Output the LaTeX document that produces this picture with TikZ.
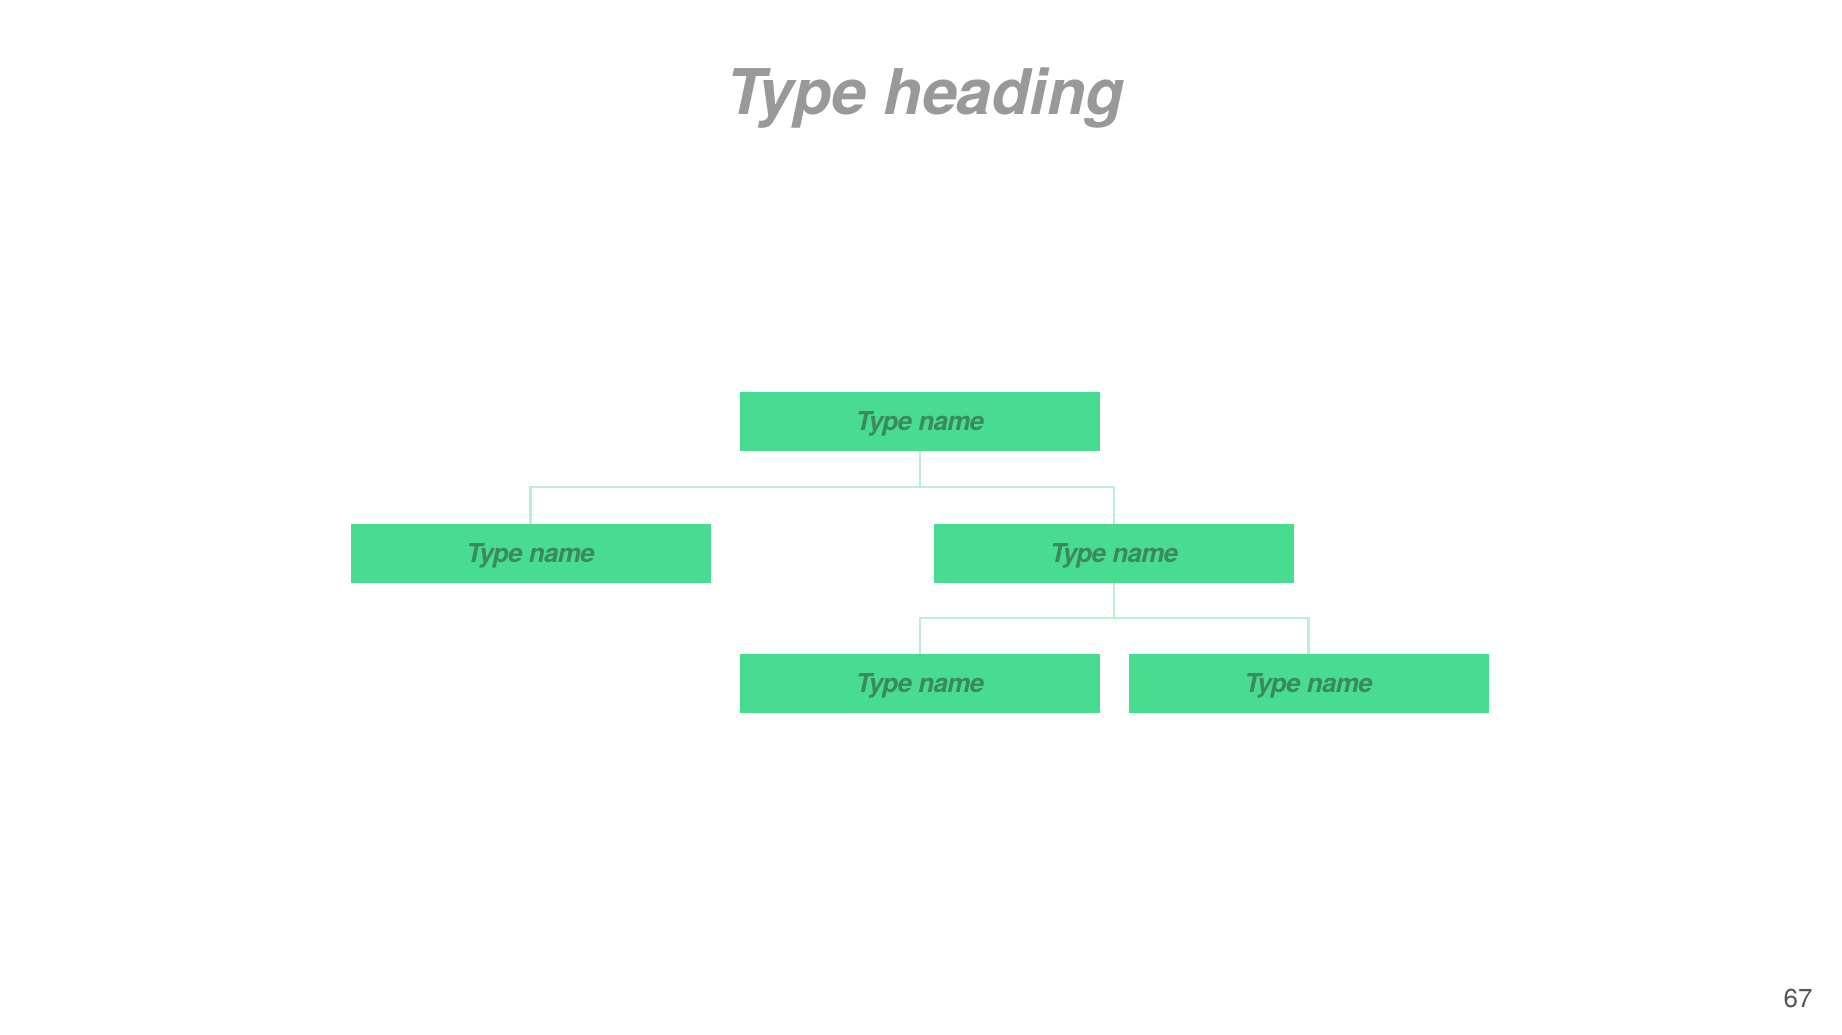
\documentclass[tikz,border=0pt]{standalone}
\usepackage{fontspec}
\setmainfont{TeX Gyre Heros}
\newfontfamily\headfont[LetterSpace=-0.5]{TeX Gyre Heros}
\newfontfamily\namefont[LetterSpace=-3]{TeX Gyre Heros}
\usetikzlibrary{positioning, calc}

\definecolor{boxgreen}{HTML}{48DC91}
\definecolor{namegreen}{HTML}{3B8A5C}
\definecolor{linkgreen}{HTML}{B9EFD2}
\definecolor{headgray}{HTML}{999999}
\definecolor{pagegray}{HTML}{555555}

\begin{document}
\begin{tikzpicture}[
    x=1pt, y=-1pt,
    box/.style={fill=boxgreen, minimum width=360pt, minimum height=59pt, inner sep=0pt,
        text depth=0pt, font=\namefont\fontsize{26}{30}\selectfont\bfseries\itshape, text=namegreen},
    conn/.style={draw=linkgreen, line width=2.2pt},
]
\useasboundingbox[fill=white] (0,0) rectangle (1842,1034);

% heading and page number
\node[anchor=base, font=\headfont\fontsize{63}{70}\selectfont\bfseries\itshape, text=headgray]
    (head) at (925,114) {Type heading};
\node[anchor=base east, font=\fontsize{26}{30}\selectfont, text=pagegray] (page) at (1816,1007) {67};

% level 0
\node[box] (root) at (920,421.5) {Type name};

% level 1
\node[box] (left) at (530.5,553.5) {Type name};
\node[box] (right) at (1114,553.5) {Type name};

% level 2
\node[box] (rleft) at (920,683.5) {Type name};
\node[box] (rright) at (1308.5,683.5) {Type name};

% connectors
\coordinate (j1) at (920,487);
\coordinate (j2) at (1114,618);
\draw[conn] (root.south) -- (j1);
\draw[conn] (left.north) |- (j1) -| (right.north);
\draw[conn] (right.south) -- (j2);
\draw[conn] (rleft.north) |- (j2) -| (rright.north);

\end{tikzpicture}
\end{document}
